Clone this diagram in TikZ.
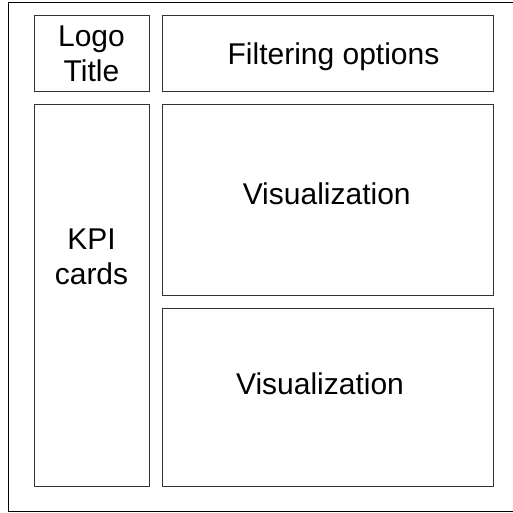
\documentclass[tikz,border=0pt]{standalone}
\usepackage{fontspec}
\setmainfont{Liberation Sans}
\usepackage{tikz}

\tikzset{panel/.style={draw=black!80, line width=1pt, inner sep=0pt},
         caption/.style={align=center, inner sep=0pt, anchor=base,
           font=\fontsize{30}{35}\selectfont}}

\begin{document}
\begin{tikzpicture}[x=1pt,y=1pt]
   \useasboundingbox (0,0) rectangle (512,513);
   \draw[line width=1pt] (8.5,1) rectangle (530,510);
   \node[panel, minimum width=115pt, minimum height=76pt] (logo) at (91.5,459) {};
   \node[panel, minimum width=331pt, minimum height=76pt] (filter) at (327.5,459) {};
   \node[panel, minimum width=115pt, minimum height=382pt] (kpi) at (91.5,217) {};
   \node[panel, minimum width=331pt, minimum height=191pt] (vistop) at (327.5,312.5) {};
   \node[panel, minimum width=331pt, minimum height=178pt] (visbot) at (327.5,115) {};
   % texts
   \node[caption] (logotxt) at (91.5,431) {Logo\\Title};
   \node[caption] (filtertxt) at (333.5,448) {Filtering options};
   \node[caption] (kpitxt) at (91.5,228) {KPI\\cards};
   \node[caption] (vistoptxt) at (326.7,308) {Visualization};
   \node[caption] (visbottxt) at (320,118) {Visualization};
\end{tikzpicture}
\end{document}
